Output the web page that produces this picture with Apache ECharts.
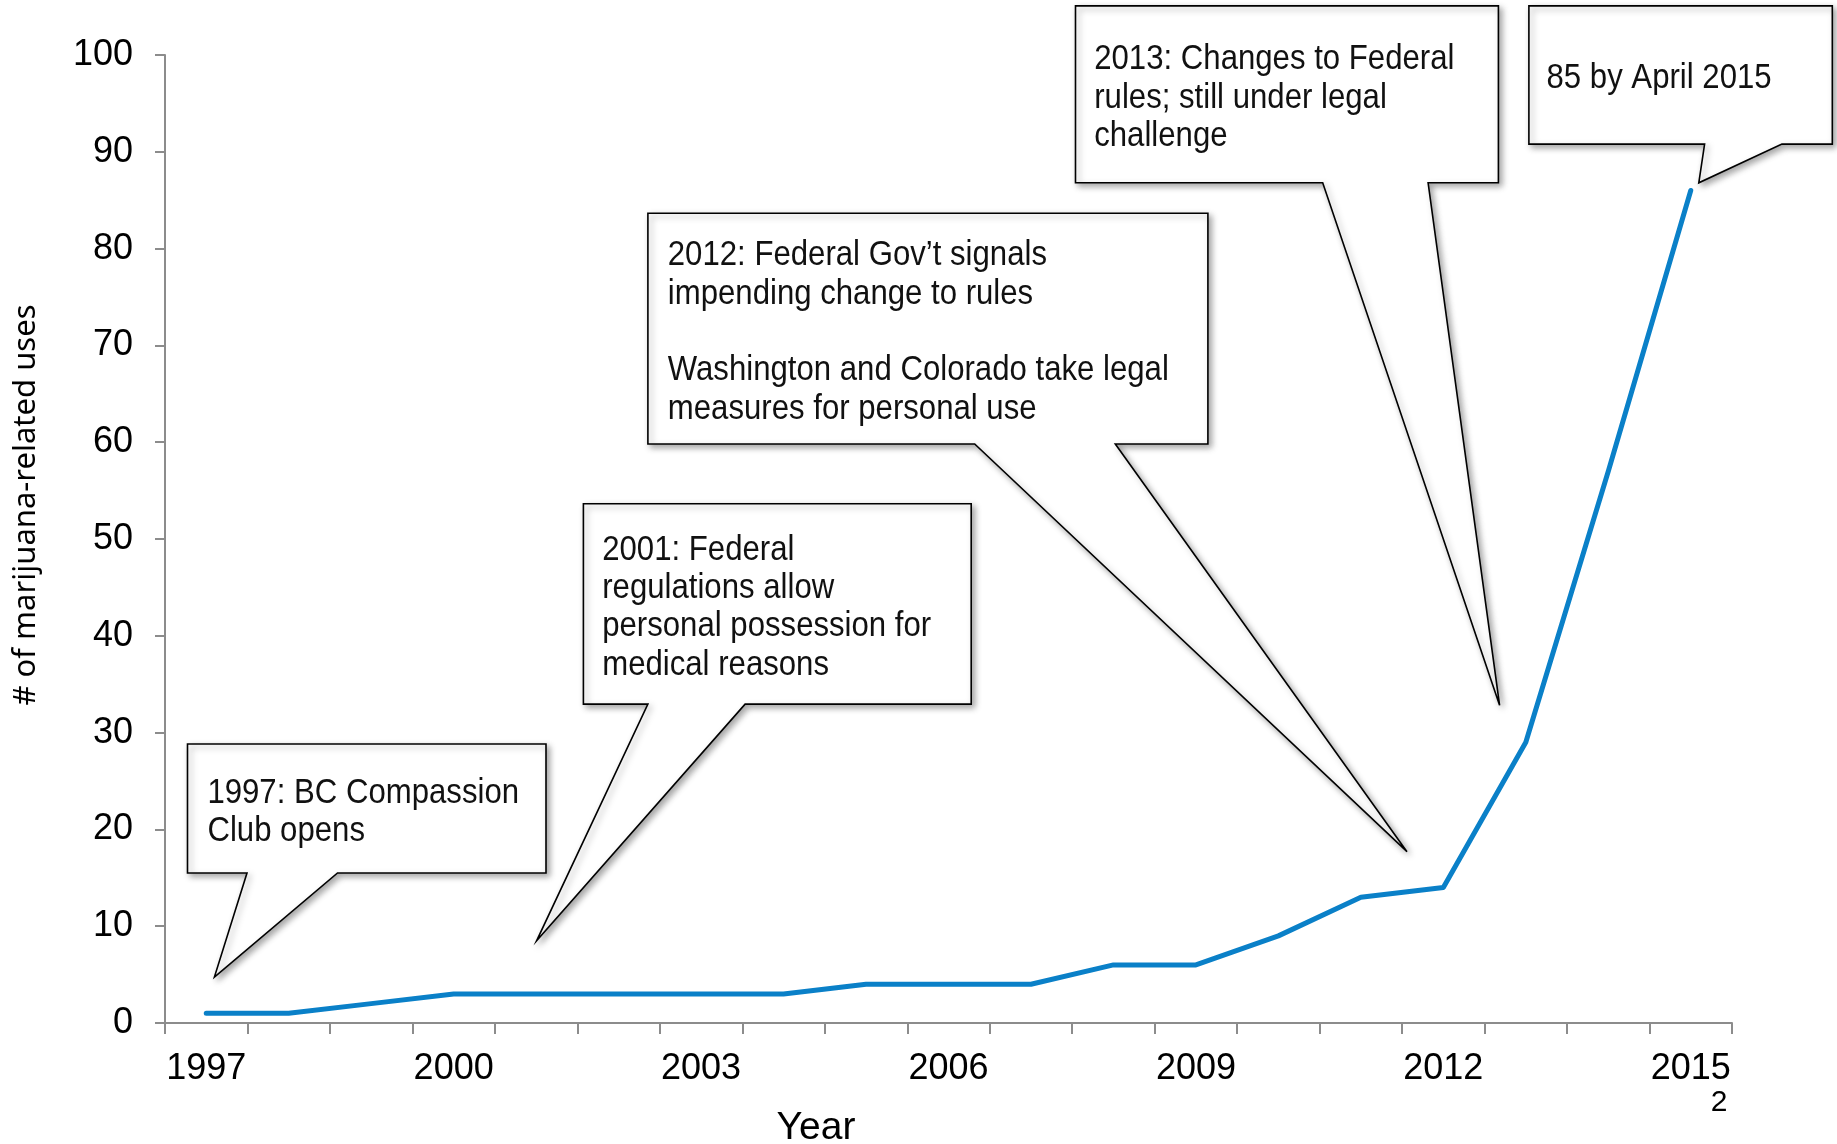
<!DOCTYPE html>
<html>
<head>
<meta charset="utf-8">
<script src="https://cdn.jsdelivr.net/npm/echarts@6/dist/echarts.min.js"></script>
<style>
html,body{margin:0;padding:0;background:#fff;}
#main{width:1837px;height:1144px;}
</style>
</head>
<body>
<div id="main"></div>
<script>
// ---- data ----
var years = ['1997','1998','1999','2000','2001','2002','2003','2004','2005','2006','2007','2008','2009','2010','2011','2012','2013','2014','2015'];
var uses = [1, 1, 2, 3, 3, 3, 3, 3, 4, 4, 4, 6, 6, 9, 13, 14, 29, 57, 86];
var yTicks = [0, 10, 20, 30, 40, 50, 60, 70, 80, 90, 100];
var yAxisTitle = '# of marijuana-related uses';
var xAxisTitle = 'Year';
var pageNumber = '2';
var calloutTexts = [
  '1997: BC Compassion\nClub opens',
  '2001: Federal\nregulations allow\npersonal possession for\nmedical reasons',
  '2012: Federal Gov\u2019t signals\nimpending change to rules\n\nWashington and Colorado take legal\nmeasures for personal use',
  '2013: Changes to Federal\nrules; still under legal\nchallenge',
  '85 by April 2015'
];

// ---- callout layout (pixels) ----
var calloutBoxes = [
  {x1:187.5, y1:744, x2:546, y2:873, tl:247, tr:337.5, tip:[214.4,977], tx:207.4, ty:774},
  {x1:583.4, y1:503.8, x2:971.2, y2:704.1, tl:647.9, tr:745.1, tip:[536.6,940.8], tx:602.2, ty:531},
  {x1:647.9, y1:213.2, x2:1207.9, y2:444, tl:974.7, tr:1115.3, tip:[1407,851.7], tx:667.8, ty:236.5},
  {x1:1075.5, y1:5.9, x2:1498.4, y2:182.8, tl:1322.7, tr:1428.1, tip:[1499.6,705.3], tx:1094.2, ty:40.5},
  {x1:1528.9, y1:5.9, x2:1832.3, y2:144.1, tl:1704.6, tr:1781.9, tip:[1698.8,182.8], tx:1546.5, ty:59.5}
];

var calloutFont = '"Liberation Sans", Arial, sans-serif';
var graphics = [];
calloutBoxes.forEach(function (b, i) {
  graphics.push({
    type: 'polygon',
    z: 100,
    shape: {
      points: [
        [b.x1, b.y1], [b.x2, b.y1], [b.x2, b.y2], [b.tr, b.y2],
        b.tip, [b.tl, b.y2], [b.x1, b.y2]
      ]
    },
    style: {
      fill: '#ffffff',
      stroke: '#000000',
      lineWidth: 1.6,
      lineJoin: 'miter',
      shadowColor: 'rgba(0,0,0,0.35)',
      shadowBlur: 6,
      shadowOffsetX: 3,
      shadowOffsetY: 3
    }
  });
  graphics.push({
    type: 'text',
    z: 101,
    x: b.tx,
    y: b.ty,
    scaleX: 0.89,
    style: {
      text: calloutTexts[i],
      fill: '#111111',
      font: '35px ' + calloutFont,
      lineHeight: 38.3,
      textAlign: 'left',
      textVerticalAlign: 'top'
    }
  });
});

graphics.push({
  type: 'text', z: 50, x: 26, y: 505, rotation: Math.PI / 2,
  style: {text: yAxisTitle, fill: '#000', font: '31px "Noto Sans", "Open Sans", sans-serif', textAlign: 'center', textVerticalAlign: 'middle'}
});
graphics.push({
  type: 'text', z: 50, x: 816, y: 1128,
  style: {text: xAxisTitle, fill: '#000', font: '39px "Liberation Sans", Arial, sans-serif', textAlign: 'center', textVerticalAlign: 'middle'}
});
graphics.push({
  type: 'text', z: 50, x: 1719, y: 1103,
  style: {text: pageNumber, fill: '#000', font: '30px "Liberation Sans", Arial, sans-serif', textAlign: 'center', textVerticalAlign: 'middle'}
});

var chart = echarts.init(document.getElementById('main'), null, {renderer: 'canvas'});
chart.setOption({
  animation: false,
  backgroundColor: '#ffffff',
  grid: {left: 165, right: 105, top: 55, bottom: 121, containLabel: false, outerBoundsMode: 'none'},
  xAxis: {
    type: 'category',
    data: years,
    boundaryGap: true,
    axisLine: {lineStyle: {color: '#8c8c8c', width: 2}},
    axisTick: {show: true, interval: 0, length: 11, lineStyle: {color: '#8c8c8c', width: 2}},
    axisLabel: {interval: 2, margin: 28, color: '#000', fontSize: 36, fontFamily: '"Liberation Sans", Arial, sans-serif'},
    splitLine: {show: false}
  },
  yAxis: {
    type: 'value',
    min: yTicks[0],
    max: yTicks[yTicks.length - 1],
    interval: yTicks[1] - yTicks[0],
    axisLine: {show: true, lineStyle: {color: '#8c8c8c', width: 2}},
    axisTick: {show: true, length: 10, lineStyle: {color: '#8c8c8c', width: 2}},
    axisLabel: {margin: 32, color: '#000', fontSize: 36, fontFamily: '"Liberation Sans", Arial, sans-serif'},
    splitLine: {show: false}
  },
  series: [{
    type: 'line',
    data: uses,
    symbol: 'none',
    smooth: false,
    z: 2,
    lineStyle: {color: '#0a80c8', width: 5, cap: 'round', join: 'round'}
  }],
  graphic: graphics
});
</script>
</body>
</html>
